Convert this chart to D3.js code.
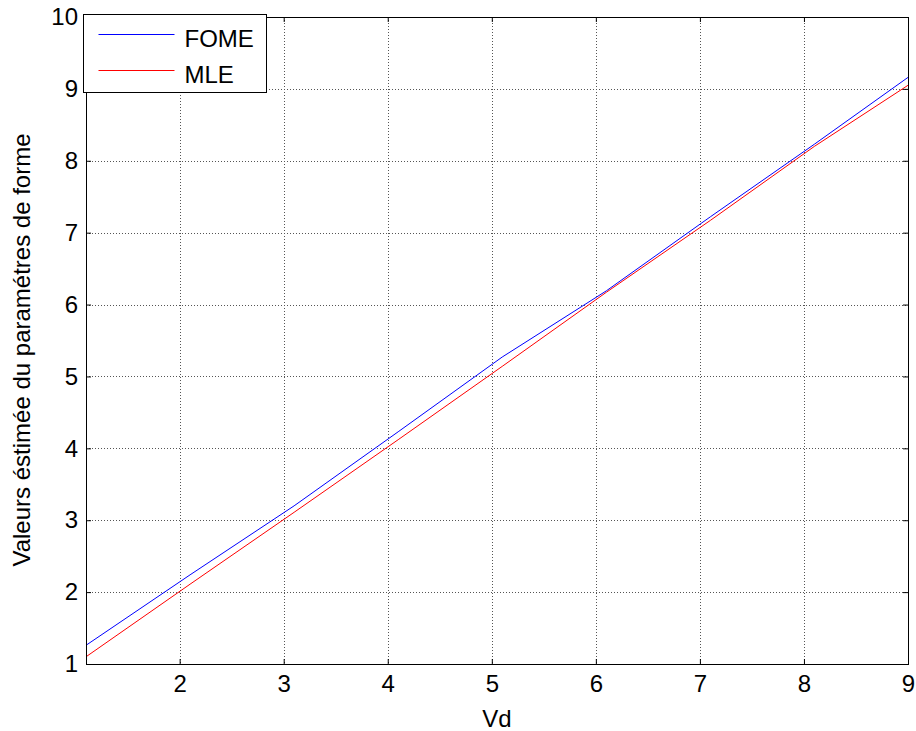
<!DOCTYPE html>
<html>
<head>
<meta charset="utf-8">
<script src="https://cdn.jsdelivr.net/npm/d3@7"></script>
<style>
  body { margin: 0; background: #fff; }
  svg { font-family: "Liberation Sans", Arial, sans-serif; }
</style>
</head>
<body>
<div id="chart"></div>
<script>
// values
var vd = [1.1, 2.1, 3.1, 4.1, 5.1, 6.1, 7.1, 8.1, 9.0];
var fome = [1.26, 2.24, 3.20, 4.23, 5.27, 6.19, 7.22, 8.23, 9.16];
var mle = [1.10, 2.11, 3.11, 4.12, 5.14, 6.17, 7.17, 8.20, 9.05];
var xTicks = [2, 3, 4, 5, 6, 7, 8, 9];
var yTicks = [1, 2, 3, 4, 5, 6, 7, 8, 9, 10];
var seriesNames = ['FOME', 'MLE'];
var seriesColors = ['#0000ff', '#ff0000'];

var width = 916, height = 731;
var m = {top: 17, right: 8, bottom: 67, left: 86};
var w = width - m.left - m.right, h = height - m.top - m.bottom;
var fs = 24;

var svg = d3.select('#chart').append('svg')
    .attr('width', width)
    .attr('height', height);

var x = d3.scaleLinear().domain([1.1, 9]).range([0, w]);
var y = d3.scaleLinear().domain([1, 10]).range([h, 0]);

var g = svg.append('g').attr('transform', 'translate(' + m.left + ',' + m.top + ')');

// grid
g.append('g').selectAll('line').data(xTicks).enter().append('line')
    .attr('x1', d => Math.round(x(d)) + 0.5).attr('x2', d => Math.round(x(d)) + 0.5)
    .attr('y1', 0).attr('y2', h)
    .attr('stroke', '#555').attr('stroke-dasharray', '1,2').attr('stroke-width', 1);
g.append('g').selectAll('line').data(yTicks).enter().append('line')
    .attr('y1', d => Math.round(y(d)) + 0.5).attr('y2', d => Math.round(y(d)) + 0.5)
    .attr('x1', 0).attr('x2', w)
    .attr('stroke', '#555').attr('stroke-dasharray', '1,2').attr('stroke-width', 1);

// lines
var line = d3.line().x((d, i) => x(vd[i])).y(d => y(d));
[fome, mle].forEach((s, i) => {
  g.append('path').datum(s)
      .attr('d', line)
      .attr('fill', 'none')
      .attr('stroke', seriesColors[i])
      .attr('stroke-width', 1);
});

// axes with inward ticks on all sides
var tk = 5;
g.append('g').attr('transform', 'translate(0,' + h + ')')
    .call(d3.axisBottom(x).tickValues(xTicks).tickSizeInner(-tk).tickSizeOuter(0).tickPadding(11))
    .call(a => a.select('.domain').remove());
g.append('g')
    .call(d3.axisTop(x).tickValues(xTicks).tickSizeInner(-tk).tickSizeOuter(0).tickFormat(''))
    .call(a => a.select('.domain').remove());
g.append('g')
    .call(d3.axisLeft(y).tickValues(yTicks).tickSizeInner(-tk).tickSizeOuter(0).tickPadding(8))
    .call(a => a.select('.domain').remove());
g.append('g').attr('transform', 'translate(' + w + ',0)')
    .call(d3.axisRight(y).tickValues(yTicks).tickSizeInner(-tk).tickSizeOuter(0).tickFormat(''))
    .call(a => a.select('.domain').remove());
g.selectAll('.tick text').attr('font-size', fs).attr('fill', '#000')
    .attr('font-family', '"Liberation Sans", Arial, sans-serif');
g.selectAll('.tick line').attr('stroke', '#000');

g.append('rect').attr('x', 0.5).attr('y', 0.5).attr('width', w).attr('height', h)
    .attr('fill', 'none').attr('stroke', '#000').attr('stroke-width', 1);

// axis labels
svg.append('text')
    .attr('x', m.left + w / 2).attr('y', 727)
    .attr('text-anchor', 'middle').attr('font-size', fs)
    .text('Vd');
svg.append('text')
    .attr('transform', 'translate(30,350) rotate(-90)')
    .attr('text-anchor', 'middle').attr('font-size', fs)
    .text('Valeurs éstimée du paramétres de forme');

// legend
var lg = svg.append('g').attr('transform', 'translate(83.5,14.5)');
lg.append('rect').attr('width', 183).attr('height', 78)
    .attr('fill', '#fff').attr('stroke', '#000').attr('stroke-width', 1);
seriesNames.forEach((n, i) => {
  var yy = 20 + i * 36;
  lg.append('line').attr('x1', 15).attr('x2', 91).attr('y1', yy).attr('y2', yy)
      .attr('stroke', seriesColors[i]).attr('stroke-width', 1);
  lg.append('text').attr('x', 101).attr('y', yy + 12)
      .attr('font-size', fs).text(n);
});
</script>
</body>
</html>
